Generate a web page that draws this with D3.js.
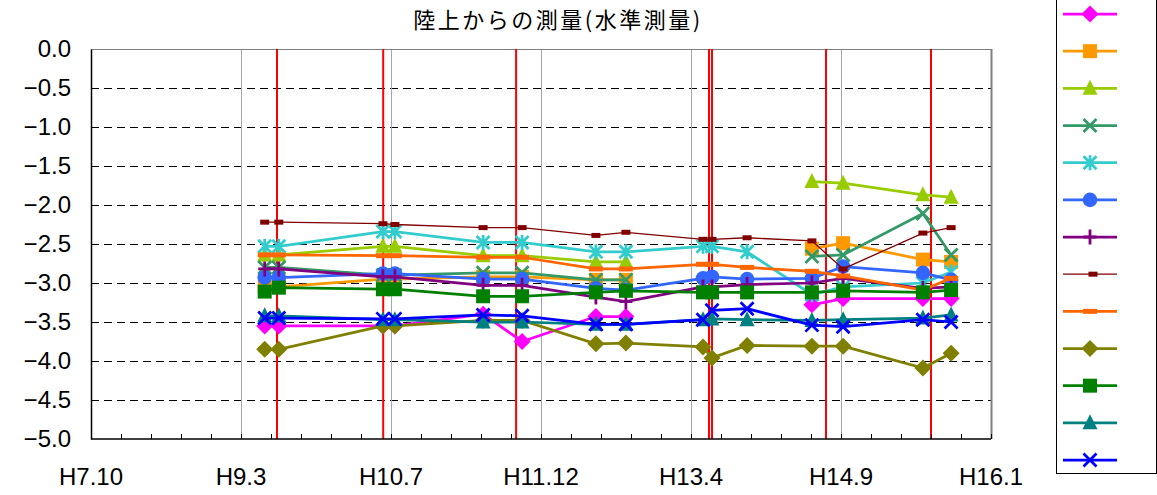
<!DOCTYPE html>
<html>
<head>
<meta charset="utf-8">
<script src="https://cdn.jsdelivr.net/npm/d3@7"></script>
<style>
  body { margin: 0; background: #fff; }
  svg { display: block; }
  text { font-family: "Liberation Sans", Arial, sans-serif; fill: #000; }
</style>
</head>
<body>
<svg id="chart" width="1157" height="495"></svg>
<script>
// survey dates (x) for every column of values
var dates = ["1997-06-01", "1997-07-18", "1998-06-30", "1998-08-09", "1999-05-30", "1999-10-07",
             "2000-06-09", "2000-09-17", "2001-06-01", "2001-07-01", "2001-10-26", "2002-05-30",
             "2002-09-11", "2003-06-04", "2003-09-06"];

// red event lines
var events = ["1997-07-12", "1998-07-01", "1999-09-17", "2001-06-21", "2001-07-01", "2002-07-16", "2003-07-01"];

var s1  = [-3.55, -3.55, -3.55, -3.55, -3.40, -3.75, -3.43, -3.43, null, null, null, -3.28, -3.20, -3.20, -3.20];
var s2  = [-3.05, -3.05, -2.95, -2.95, -2.92, -2.92, -2.96, -2.96, null, null, null, -2.56, -2.49, -2.70, -2.73];
var s3  = [-2.64, -2.64, -2.53, -2.53, -2.65, -2.65, -2.73, -2.73, null, null, null, -1.70, -1.72, -1.87, -1.90];
var s4  = [-2.80, -2.80, -2.90, -2.90, -2.87, -2.87, -2.96, -2.96, null, null, null, -2.66, -2.64, -2.11, -2.64];
var s5  = [-2.53, -2.53, -2.34, -2.34, -2.48, -2.48, -2.60, -2.60, -2.53, -2.53, -2.60, -3.15, -3.05, -3.00, -2.86];
var s6  = [-2.93, -2.93, -2.88, -2.88, -2.95, -2.95, -3.07, -3.09, -2.94, -2.92, -2.95, -2.94, -2.79, -2.87, -2.96];
var s7  = [-2.82, -2.82, -2.92, -2.92, -3.03, -3.03, -3.18, -3.24, -3.05, -3.05, -3.02, -3.00, -2.94, -3.07, -3.05];
var s8  = [-2.22, -2.22, -2.24, -2.25, -2.29, -2.29, -2.39, -2.35, -2.44, -2.44, -2.42, -2.46, -2.82, -2.36, -2.29];
var s9  = [-2.64, -2.64, -2.65, -2.65, -2.67, -2.67, -2.82, -2.82, -2.76, -2.76, -2.80, -2.85, -2.91, -3.09, -2.94];
var s10 = [-3.85, -3.85, -3.55, -3.55, -3.48, -3.48, -3.78, -3.77, -3.82, -3.96, -3.80, -3.81, -3.81, -4.09, -3.90];
var s11 = [-3.11, -3.06, -3.08, -3.08, -3.17, -3.17, -3.12, -3.10, -3.12, -3.12, -3.12, -3.12, -3.10, -3.12, -3.09];
var s12 = [-3.42, -3.42, -3.47, -3.47, -3.50, -3.50, -3.53, -3.53, -3.47, -3.46, -3.47, -3.48, -3.47, -3.45, -3.41];
var s13 = [-3.45, -3.45, -3.46, -3.46, -3.41, -3.42, -3.53, -3.53, -3.47, -3.35, -3.33, -3.54, -3.56, -3.47, -3.50];

var series = [s1, s2, s3, s4, s5, s6, s7, s8, s9, s10, s11, s12, s13];

var colors  = ["#FF00FF", "#FF9900", "#99CC00", "#339966", "#33CCCC", "#3366FF", "#800080",
               "#800000", "#FF6600", "#808000", "#008000", "#008080", "#0000FF"];
var markers = ["diamond", "square", "triangle", "x", "star", "circle", "plus",
               "bar", "wbar", "diamond", "square", "triangle", "x"];

var yTicks = [0, -0.5, -1, -1.5, -2, -2.5, -3, -3.5, -4, -4.5, -5];
var xLabels = ["H7.10", "H9.3", "H10.7", "H11.12", "H13.4", "H14.9", "H16.1"];

var parse = d3.utcParse("%Y-%m-%d");
var start = parse("1995-10-31");
var end = d3.utcDay.offset(start, 3000);

var pL = 91, pR = 991, pT = 49, pB = 439;

var svg = d3.select("#chart");
var x = d3.scaleUtc().domain([start, end]).range([pL, pR]);
var y = d3.scaleLinear().domain([-5, 0]).range([pB, pT]);

var majors = d3.range(0, 3001, 500).map(function(d) { return d3.utcDay.offset(start, d); });
var minors = d3.range(0, 3001, 100).map(function(d) { return d3.utcDay.offset(start, d); });

// title
svg.append("text").attr("x", 558).attr("y", 28).attr("text-anchor", "middle")
   .style("font-family", "'Noto Sans CJK JP', sans-serif").style("font-size", "22px")
   .style("letter-spacing", "2.5px")
   .text("陸上からの測量(水準測量)");

// horizontal dashed grid
svg.append("g").selectAll("line").data(yTicks.filter(function(d) { return d > -5 && d < 0; }))
   .enter().append("line")
   .attr("x1", pL).attr("x2", pR)
   .attr("y1", function(d) { return Math.round(y(d)) + 0.5; }).attr("y2", function(d) { return Math.round(y(d)) + 0.5; })
   .attr("stroke", "#000").attr("stroke-width", 1).attr("stroke-dasharray", "8,5");

// vertical gray grid
svg.append("g").selectAll("line").data(majors.slice(1, -1))
   .enter().append("line")
   .attr("x1", function(d) { return Math.round(x(d)) + 0.5; }).attr("x2", function(d) { return Math.round(x(d)) + 0.5; })
   .attr("y1", pT).attr("y2", pB)
   .attr("stroke", "#a6a6a6").attr("stroke-width", 1);

// plot border top / right
svg.append("line").attr("x1", pL).attr("x2", pR).attr("y1", pT + 0.5).attr("y2", pT + 0.5)
   .attr("stroke", "#808080").attr("stroke-width", 1);
svg.append("line").attr("x1", pR + 0.5).attr("x2", pR + 0.5).attr("y1", pT).attr("y2", pB)
   .attr("stroke", "#808080").attr("stroke-width", 2);

// red event lines
svg.append("g").selectAll("line").data(events.map(parse))
   .enter().append("line")
   .attr("x1", function(d) { return x(d); }).attr("x2", function(d) { return x(d); })
   .attr("y1", pT).attr("y2", pB)
   .attr("stroke", "#FF0000").attr("stroke-width", 2);

// x axis with inward minor ticks
var xAxis = svg.append("g").attr("transform", "translate(0," + pB + ")")
   .call(d3.axisBottom(x).tickValues(minors).tickSize(-5).tickFormat(""));
xAxis.select(".domain").attr("stroke", "#000").attr("stroke-width", 1.5).attr("d", "M" + pL + ",0H" + pR);
xAxis.selectAll(".tick line").attr("stroke", "#000");

svg.append("g").selectAll("text").data(majors)
   .enter().append("text")
   .attr("x", function(d) { return x(d); }).attr("y", 485)
   .attr("text-anchor", "middle").style("font-size", "24px")
   .text(function(d, i) { return xLabels[i]; });

// y axis
var yAxis = svg.append("g").attr("transform", "translate(" + pL + ",0)")
   .call(d3.axisLeft(y).tickValues(yTicks).tickSize(0).tickPadding(20).tickFormat(d3.format(".1f")));
yAxis.select(".domain").attr("stroke", "#000").attr("stroke-width", 1.5);
yAxis.selectAll("text").style("font-size", "24px").style("font-family", "'Liberation Sans', Arial, sans-serif");

// marker drawing
function drawMarker(g, type, color, cx, cy) {
  if (type == "diamond") {
    g.append("path").attr("d", "M" + cx + "," + (cy - 8.5) + "L" + (cx + 8.5) + "," + cy + "L" + cx + "," + (cy + 8.5) + "L" + (cx - 8.5) + "," + cy + "Z")
     .attr("fill", color);
  } else if (type == "square") {
    g.append("rect").attr("x", cx - 7).attr("y", cy - 7).attr("width", 14).attr("height", 14).attr("fill", color);
  } else if (type == "triangle") {
    g.append("path").attr("d", "M" + cx + "," + (cy - 8.5) + "L" + (cx + 7.5) + "," + (cy + 6.5) + "L" + (cx - 7.5) + "," + (cy + 6.5) + "Z")
     .attr("fill", color);
  } else if (type == "circle") {
    g.append("circle").attr("cx", cx).attr("cy", cy).attr("r", 7.3).attr("fill", color);
  } else if (type == "x" || type == "star") {
    g.append("path").attr("d", "M" + (cx - 6.5) + "," + (cy - 6.5) + "L" + (cx + 6.5) + "," + (cy + 6.5) + "M" + (cx + 6.5) + "," + (cy - 6.5) + "L" + (cx - 6.5) + "," + (cy + 6.5)
        + (type == "star" ? "M" + cx + "," + (cy - 7.5) + "L" + cx + "," + (cy + 7.5) : ""))
     .attr("stroke", color).attr("stroke-width", 2.8).attr("fill", "none");
  } else if (type == "plus") {
    g.append("path").attr("d", "M" + (cx - 6.5) + "," + cy + "L" + (cx + 6.5) + "," + cy + "M" + cx + "," + (cy - 7.5) + "L" + cx + "," + (cy + 7.5))
     .attr("stroke", color).attr("stroke-width", 2.8).attr("fill", "none");
  } else if (type == "bar") {
    g.append("rect").attr("x", cx - 4.5).attr("y", cy - 2.5).attr("width", 9).attr("height", 5).attr("fill", color);
  } else if (type == "wbar") {
    g.append("rect").attr("x", cx - 7).attr("y", cy - 2.5).attr("width", 14).attr("height", 5).attr("fill", color);
  }
}

var xs = dates.map(parse);
var line = d3.line()
   .defined(function(d) { return d != null; })
   .x(function(d, i) { return x(xs[i]); })
   .y(function(d) { return y(d); });

series.forEach(function(vals, k) {
  var g = svg.append("g");
  g.append("path").datum(vals).attr("d", line)
   .attr("fill", "none").attr("stroke", colors[k])
   .attr("stroke-width", markers[k] == "bar" ? 1.3 : 2.75);
  vals.forEach(function(v, i) {
    if (v != null) drawMarker(g, markers[k], colors[k], x(xs[i]), y(v));
  });
});

// legend (markers only)
svg.append("rect").attr("x", 1056.5).attr("y", -2).attr("width", 100).attr("height", 475.5)
   .attr("fill", "#fff").attr("stroke", "#000").attr("stroke-width", 1);

var legendY = d3.scalePoint().domain(d3.range(series.length)).range([14, 460]);
series.forEach(function(vals, k) {
  var g = svg.append("g");
  var ly = legendY(k);
  g.append("line").attr("x1", 1063).attr("x2", 1117).attr("y1", ly).attr("y2", ly)
   .attr("stroke", colors[k]).attr("stroke-width", markers[k] == "bar" ? 1.3 : 2.75);
  drawMarker(g, markers[k], colors[k], markers[k] == "bar" ? 1093 : 1090, ly);
});
</script>
</body>
</html>
